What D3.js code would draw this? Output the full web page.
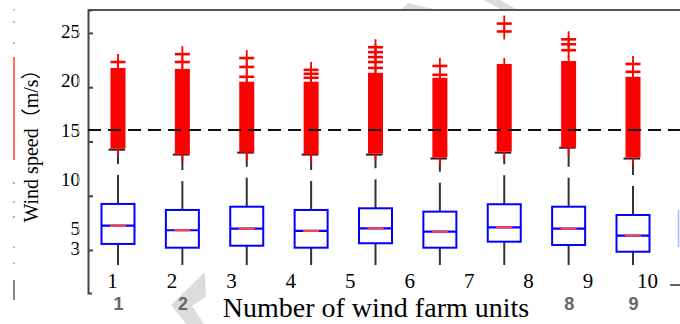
<!DOCTYPE html>
<html>
<head>
<meta charset="utf-8">
<script src="https://cdn.jsdelivr.net/npm/d3@7"></script>
<style>
  html, body { margin: 0; padding: 0; background: #fff; }
  svg { display: block; }
</style>
</head>
<body>
<svg id="chart" width="680" height="324"></svg>
<script>
// Wind speed distribution per wind farm unit
const units = [1, 2, 3, 4, 5, 6, 7, 8, 9];
const q1 = [3.43, 3.05, 3.25, 3.05, 3.50, 3.05, 3.66, 3.32, 2.64];
const median = [5.29, 4.82, 4.98, 4.75, 5.02, 4.68, 5.12, 4.98, 4.27];
const q3 = [7.49, 6.88, 7.21, 6.88, 7.05, 6.71, 7.46, 7.21, 6.37];
const whiskerLo = [1.29, 1.29, 1.29, 1.29, 1.29, 1.29, 1.29, 1.29, 1.29];
const whiskerHi = [13.0, 12.5, 12.7, 12.5, 12.5, 12.1, 12.7, 13.2, 12.1];
// dense band of upper outliers (markers overlap into a solid column)
const outlierLo = [13.1, 12.5, 12.7, 12.5, 12.6, 12.2, 12.8, 13.2, 12.2];
const outlierHi = [21.3, 21.2, 19.9, 19.9, 20.8, 20.3, 21.7, 22.0, 20.4];
// isolated extreme outliers above the band
const outlierExtra = [
  [21.9],
  [21.9, 22.7],
  [20.4, 21.4, 22.3],
  [20.3, 20.7, 21.1],
  [21.3, 21.9, 22.4, 22.9, 23.4],
  [20.6, 21.5],
  [25.0, 25.8],
  [23.1, 23.7, 24.2],
  [20.9, 21.7]
];
const threshold = 15;
const yTickLabels = [25, 20, 15, 10, 5, 3];
const yTickMarks = [24.85, 19.34, 13.83, 8.32, 2.82];
const xTickLabels = ["1", "2", "3", "4", "5", "6", "7", "8", "9", "10"];
const unitTickLabels = [1, 2, 8, 9];

const svg = d3.select("#chart");

const y = d3.scaleLinear().domain([-1.55, 27.18]).range([293, 10]);
const x = d3.scalePoint().domain(units).range([118, 633]);
const xLab = d3.scalePoint().domain(xTickLabels).range([112, 647]);

const serif = "'Liberation Serif', 'Times New Roman', serif";

// faint watermark fragments
const wm = svg.append("g").attr("fill", "#dcdcdc");
wm.append("polygon").attr("points", "400,11 408,3 442,11");
wm.append("polygon").attr("points", "484,0 500,0 518,10 502,10");
wm.append("polygon").attr("points", "205,272 206,297 192,306 204,324 186,324 171,305");

// stray marks along the left margin
const lm = svg.append("g");
lm.append("line").attr("x1", 14).attr("x2", 14).attr("y1", 57).attr("y2", 160)
  .attr("stroke", "#f00").attr("stroke-width", 1.2);
[[10, "#888"], [22, "#f33"], [43, "#f33"], [183, "#44f"], [202, "#f33"], [217, "#44f"], [247, "#888"], [263, "#888"]]
  .forEach(([yy, c]) => lm.append("rect").attr("x", 13.5).attr("y", yy - 1).attr("width", 1).attr("height", 2).attr("fill", c));
lm.append("line").attr("x1", 14).attr("x2", 14).attr("y1", 280).attr("y2", 300)
  .attr("stroke", "#333").attr("stroke-width", 1.2);

// frame: top border and left axis with inward ticks
svg.append("line").attr("x1", 88).attr("x2", 680).attr("y1", 10).attr("y2", 10)
  .attr("stroke", "#555").attr("stroke-width", 2);

const yAxis = svg.append("g").attr("transform", "translate(88,0)")
  .call(d3.axisRight(y).tickValues(yTickMarks).tickSize(5).tickSizeOuter(4).tickFormat(""));
yAxis.selectAll("path, line").attr("stroke", "#444").attr("stroke-width", 2);

const yLab = svg.append("g").attr("transform", "translate(80,0)")
  .call(d3.axisLeft(y).tickValues(yTickLabels).tickSize(0).tickPadding(0).tickFormat(d3.format("d")));
yLab.select(".domain").remove();
yLab.selectAll("text").attr("font-family", serif).attr("font-size", 19).attr("fill", "#000");

// short grey marks right of the value labels
svg.append("g").selectAll("line").data(yTickLabels).join("line")
  .attr("x1", 78.5).attr("x2", 78.5)
  .attr("y1", d => y(d) - 3).attr("y2", d => y(d) + 4)
  .attr("stroke", "#aaa").attr("stroke-width", 1);

// boxes
const g = svg.append("g");
units.forEach((u, i) => {
  const cx = x(u);
  // upper whisker (dashed) and cap
  g.append("line").attr("x1", cx).attr("x2", cx)
    .attr("y1", y(q3[i])).attr("y2", y(whiskerHi[i]))
    .attr("stroke", "#333").attr("stroke-width", 2).attr("stroke-dasharray", "29,11");
  g.append("line").attr("x1", cx - 9.5).attr("x2", cx + 7)
    .attr("y1", y(whiskerHi[i])).attr("y2", y(whiskerHi[i]))
    .attr("stroke", "#222").attr("stroke-width", 2);
  // lower whisker
  g.append("line").attr("x1", cx).attr("x2", cx)
    .attr("y1", y(q1[i])).attr("y2", y(whiskerLo[i]))
    .attr("stroke", "#333").attr("stroke-width", 2);
  // box
  g.append("rect").attr("x", cx - 16.5).attr("width", 33)
    .attr("y", y(q3[i])).attr("height", y(q1[i]) - y(q3[i]))
    .attr("fill", "#fff").attr("stroke", "#00f").attr("stroke-width", 2);
  g.append("line").attr("x1", cx - 16.5).attr("x2", cx + 16.5)
    .attr("y1", y(median[i])).attr("y2", y(median[i]))
    .attr("stroke", "#00f").attr("stroke-width", 2.2);
  g.append("line").attr("x1", cx - 8).attr("x2", cx + 8)
    .attr("y1", y(median[i])).attr("y2", y(median[i]))
    .attr("stroke", "#f44").attr("stroke-width", 2.2);

  // dense outlier column
  g.append("rect").attr("x", cx - 7.5).attr("width", 15)
    .attr("y", y(outlierHi[i])).attr("height", y(outlierLo[i]) - y(outlierHi[i]))
    .attr("fill", "#f00");
  g.append("line").attr("x1", cx).attr("x2", cx)
    .attr("y1", y(outlierLo[i])).attr("y2", y(outlierLo[i]) + 7)
    .attr("stroke", "#f00").attr("stroke-width", 1.8);
  g.append("line").attr("x1", cx).attr("x2", cx)
    .attr("y1", y(outlierHi[i]) - 6).attr("y2", y(outlierHi[i]))
    .attr("stroke", "#f00").attr("stroke-width", 1.8);

  // isolated outliers as "+" markers
  outlierExtra[i].forEach(v => {
    g.append("line").attr("x1", cx - 7.5).attr("x2", cx + 7.5)
      .attr("y1", y(v)).attr("y2", y(v))
      .attr("stroke", "#f00").attr("stroke-width", 2.6);
    g.append("line").attr("x1", cx).attr("x2", cx)
      .attr("y1", y(v) - 8).attr("y2", y(v) + 8)
      .attr("stroke", "#f00").attr("stroke-width", 1.8);
  });
});

// 15 m/s reference line
svg.append("line").attr("x1", 88).attr("x2", 680)
  .attr("y1", y(threshold)).attr("y2", y(threshold))
  .attr("stroke", "#111").attr("stroke-width", 2).attr("stroke-dasharray", "13,7");

// edge of the next box at the right border
svg.append("line").attr("x1", 678.5).attr("x2", 678.5).attr("y1", 210).attr("y2", 247)
  .attr("stroke", "#aab4ff").attr("stroke-width", 1.5);
svg.append("line").attr("x1", 670).attr("x2", 680).attr("y1", 285).attr("y2", 285)
  .attr("stroke", "#333").attr("stroke-width", 1.5);

// unit labels
const xAx = svg.append("g").attr("transform", "translate(0,273)")
  .call(d3.axisBottom(xLab).tickSize(0).tickPadding(0));
xAx.select(".domain").remove();
xAx.selectAll("text").attr("font-family", serif).attr("font-size", 21).attr("fill", "#000");

const xAx2 = svg.append("g").attr("transform", "translate(0,297)")
  .call(d3.axisBottom(x).tickValues(unitTickLabels).tickSize(0).tickPadding(0));
xAx2.select(".domain").remove();
xAx2.selectAll("text").attr("font-family", "'Liberation Sans', Arial, sans-serif")
  .attr("font-weight", "bold").attr("font-size", 18).attr("fill", "#666");

// axis titles
svg.append("text").attr("x", 376).attr("y", 317).attr("text-anchor", "middle")
  .attr("font-family", serif).attr("font-size", 28).attr("fill", "#000")
  .text("Number of wind farm units");

svg.append("text").attr("transform", "translate(38,141) rotate(-90)")
  .attr("text-anchor", "middle")
  .attr("font-family", "'Liberation Serif', 'Noto Sans CJK SC', serif")
  .attr("font-size", 20).attr("fill", "#000")
  .text("Wind speed（m/s）");
</script>
</body>
</html>
